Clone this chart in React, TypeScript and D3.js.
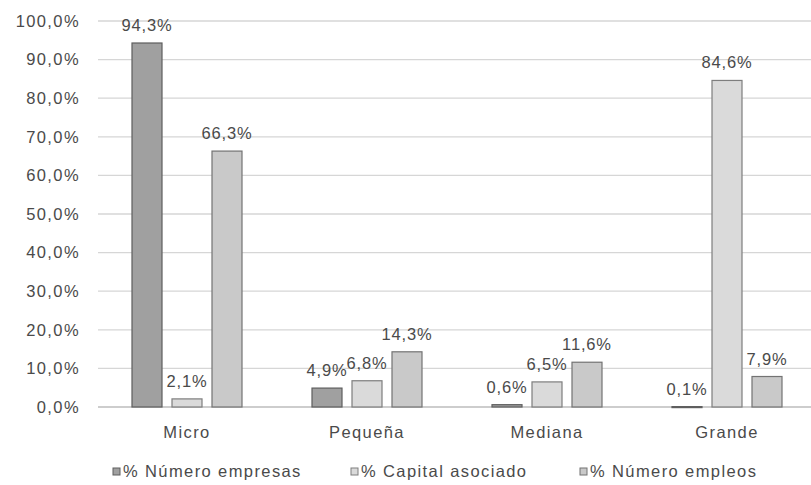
import React from "react";
import * as d3 from "d3";

const categories = ["Micro", "Pequeña", "Mediana", "Grande"];
const seriesNames = ["% Número empresas", "% Capital asociado", "% Número empleos"];
const numeroEmpresas = [94.3, 4.9, 0.6, 0.1];
const capitalAsociado = [2.1, 6.8, 6.5, 84.6];
const numeroEmpleos = [66.3, 14.3, 11.6, 7.9];
const yTicks = [0, 10, 20, 30, 40, 50, 60, 70, 80, 90, 100];

const W = 811;
const H = 485;
const FONT = "'Liberation Sans', Arial, sans-serif";
const FS = 16.5;
const LS = 1.4;
const TXT = "#4a4a4a";
const fills = ["#a0a0a0", "#dadada", "#c9c9c9"];
const strokes = ["#5e5e5e", "#7e7e7e", "#737373"];

const fmt = (v: number) => v.toFixed(1).replace(".", ",") + "%";

export default function App() {
  const series = [numeroEmpresas, capitalAsociado, numeroEmpleos];
  const x = d3.scaleBand<string>().domain(categories).range([97, 817]);
  const y = d3.scaleLinear().domain([0, 100]).range([407, 21]);
  const groupW = 110;
  const inner = d3.scaleBand<number>().domain([0, 1, 2]).range([0, groupW]).paddingInner(0.25);

  const legendX = [113, 351, 580];

  return (
    <svg width={W} height={H} style={{ position: "absolute", left: 0, top: 0, background: "#fff" }}>
      <rect x={0} y={0} width={W} height={H} fill="#fff" />
      {yTicks.map((t) => (
        <g key={t}>
          <line x1={98} x2={W} y1={y(t)} y2={y(t)} stroke={t === 0 ? "#bdbdbd" : "#d6d6d6"} strokeWidth={1.3} />
          <text
            x={80}
            y={y(t)}
            dy="0.35em"
            textAnchor="end"
            fontFamily={FONT}
            fontSize={FS}
            letterSpacing={LS}
            fill={TXT}
          >
            {fmt(t)}
          </text>
        </g>
      ))}
      {categories.map((c, ci) => {
        const cx = (x(c) as number) + x.bandwidth() / 2;
        const gx = cx - groupW / 2;
        return (
          <g key={c}>
            {series.map((s, si) => {
              const bx = gx + (inner(si) as number);
              const bw = inner.bandwidth();
              const top = y(s[ci]);
              return (
                <g key={si}>
                  <rect
                    x={bx}
                    y={top}
                    width={bw}
                    height={Math.max(y(0) - top, 1)}
                    fill={fills[si]}
                    stroke={strokes[si]}
                    strokeWidth={1.2}
                  />
                  <text
                    x={bx + bw / 2}
                    y={top - 12}
                    textAnchor="middle"
                    fontFamily={FONT}
                    fontSize={FS}
                    letterSpacing={LS * 0.6}
                    fill={TXT}
                  >
                    {fmt(s[ci])}
                  </text>
                </g>
              );
            })}
            <text
              x={cx}
              y={438}
              textAnchor="middle"
              fontFamily={FONT}
              fontSize={FS}
              letterSpacing={LS}
              fill={TXT}
            >
              {c}
            </text>
          </g>
        );
      })}
      {seriesNames.map((n, i) => (
        <g key={n}>
          <rect x={legendX[i]} y={468} width={7} height={7} fill={fills[i]} stroke={strokes[i]} strokeWidth={1} />
          <text x={legendX[i] + 10} y={477} fontFamily={FONT} fontSize={FS} letterSpacing={LS} fill={TXT}>
            {n}
          </text>
        </g>
      ))}
    </svg>
  );
}
